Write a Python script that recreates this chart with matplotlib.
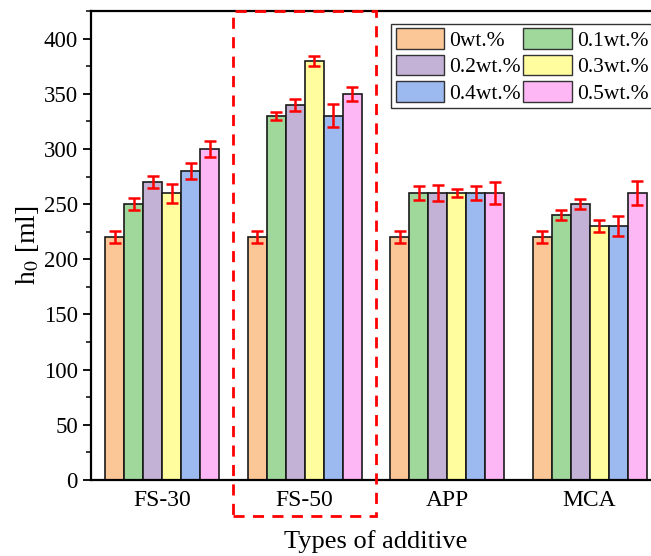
import numpy as np
import matplotlib
matplotlib.use("Agg")
import matplotlib.pyplot as plt
from matplotlib.patches import Rectangle, Patch
from matplotlib.ticker import MultipleLocator

plt.rcParams["font.family"] = ["Liberation Serif", "DejaVu Serif"]
plt.rcParams["mathtext.fontset"] = "stix"

# additive types and loading levels
additives = ["FS-30", "FS-50", "APP", "MCA"]
levels = ["0wt.%", "0.1wt.%", "0.2wt.%", "0.3wt.%", "0.4wt.%", "0.5wt.%"]

# foam height h0 per additive, one list per loading level
h0_0 = [220, 220, 220, 220]
h0_01 = [250, 330, 260, 240]
h0_02 = [270, 340, 260, 250]
h0_03 = [260, 380, 260, 230]
h0_04 = [280, 330, 260, 230]
h0_05 = [300, 350, 260, 260]

# standard deviations
err_0 = [5.3, 5.3, 5.3, 5.3]
err_01 = [5.6, 3.5, 6.3, 4.5]
err_02 = [5.6, 5.3, 7.4, 4.2]
err_03 = [8.6, 4.5, 3.3, 5.4]
err_04 = [7.6, 10.3, 6.3, 9.0]
err_05 = [7.6, 6.3, 10.3, 11.2]

values = [h0_0, h0_01, h0_02, h0_03, h0_04, h0_05]
errors = [err_0, err_01, err_02, err_03, err_04, err_05]
colors = ["#FCC797", "#A0D89C", "#C3B1D6", "#FFFD9E", "#9CBAF0", "#FDB7F5"]

fig = plt.figure(figsize=(6.51, 5.56), dpi=100)
ax = fig.add_axes([0.1398, 0.1367, 0.8752, 0.8435])

x = np.arange(len(additives))
n = len(levels)
w = 0.8 / n
handles = []
for i in range(n):
    pos = x - 0.4 + w * (i + 0.5)
    ax.bar(pos, values[i], width=w, color=colors[i], edgecolor="#1a1a1a",
           linewidth=1.2, zorder=2)
    ax.errorbar(pos, values[i], yerr=errors[i], fmt="none", ecolor="red",
                elinewidth=1.8, capsize=4.5, capthick=1.8, zorder=3)
    handles.append(Patch(facecolor=colors[i], edgecolor="#333333", linewidth=1.0,
                         label=levels[i]))

ax.set_xlim(-0.5, 3.5)
ax.set_ylim(0, 425)
ax.yaxis.set_major_locator(MultipleLocator(50))
ax.yaxis.set_minor_locator(MultipleLocator(25))
ax.tick_params(axis="y", which="major", direction="out", length=6, width=1.3,
               labelsize=16.5)
ax.tick_params(axis="y", which="minor", direction="out", length=3.5, width=1.1)
ax.tick_params(axis="x", length=0, labelsize=17, pad=7)
ax.set_xticks(x)
ax.set_xticklabels(additives)
for s in ax.spines.values():
    s.set_linewidth(1.6)

ax.set_ylabel("h$_0$ [ml]", fontsize=20, labelpad=2)
ax.set_xlabel("Types of additive", fontsize=19, labelpad=14)

# dashed frame around the FS-50 group
ax.add_patch(Rectangle((0.5, -33), 1.0, 458, fill=False, edgecolor="red",
                       linestyle=(0, (4, 3)), linewidth=2.0, clip_on=False,
                       zorder=4))

order = [0, 2, 4, 1, 3, 5]
leg = ax.legend([handles[k] for k in order], [levels[k] for k in order],
                ncol=2, loc="upper left", bbox_to_anchor=(0.527, 0.972),
                fontsize=15.5, frameon=True, fancybox=False, edgecolor="black",
                handlelength=2.25, handleheight=1.1, handletextpad=0.25,
                columnspacing=0.1, labelspacing=0.17, borderpad=0.2,
                borderaxespad=0)
leg.get_frame().set_linewidth(1.0)

fig.savefig("out.png", dpi=100)
